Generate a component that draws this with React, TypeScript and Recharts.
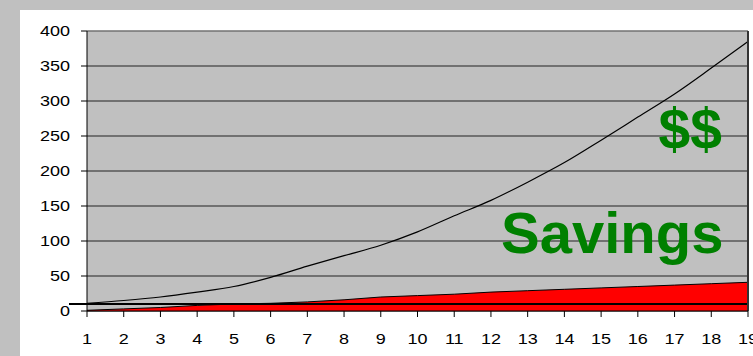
import React from 'react';
import {
  ComposedChart,
  Area,
  Line,
  XAxis,
  YAxis,
  CartesianGrid,
  ReferenceLine,
} from 'recharts';

const years = [1, 2, 3, 4, 5, 6, 7, 8, 9, 10, 11, 12, 13, 14, 15, 16, 17, 18, 19];
const totalValues = [11, 15, 20, 27, 35, 48, 64, 79, 94, 113, 136, 158, 184, 212, 244, 277, 310, 347, 385];
const savingsValues = [1, 3, 5, 8, 10, 11, 13, 16, 20, 22, 24, 27, 29, 31, 33, 35, 37, 39, 41];
const yTicks = [0, 50, 100, 150, 200, 250, 300, 350, 400];
const baseLevel = 10;

const data = years.map((year, i) => ({
  year,
  total: totalValues[i],
  savings: savingsValues[i],
}));

const FONT = '"Liberation Sans", Arial, sans-serif';

function XTick(props: any) {
  const { x, y, payload } = props;
  return (
    <text
      transform={`translate(${x},${y}) scale(1.2,1)`}
      textAnchor="middle"
      dy="0.71em"
      fontFamily={FONT}
      fontSize={15}
      fill="#000"
    >
      {payload.value}
    </text>
  );
}

function YTick(props: any) {
  const { x, y, payload } = props;
  return (
    <text
      transform={`translate(${x},${y}) scale(1.2,1)`}
      textAnchor="end"
      dy="0.355em"
      fontFamily={FONT}
      fontSize={15}
      fill="#000"
    >
      {payload.value}
    </text>
  );
}

// the flat line starts a little left of the value axis
function BaseLine(props: any) {
  return (
    <line
      x1={props.x1 - 18}
      y1={props.y1}
      x2={props.x2}
      y2={props.y2}
      stroke="#000"
      strokeWidth={2}
    />
  );
}

export default function App() {
  return (
    <div
      style={{
        position: 'fixed',
        left: 0,
        top: 0,
        width: 753,
        height: 356,
        background: '#c0c0c0',
        overflow: 'hidden',
      }}
    >
      <div
        style={{
          position: 'absolute',
          left: 20,
          top: 10,
          right: 0,
          bottom: 0,
          background: '#fff',
        }}
      />
      <div style={{ position: 'absolute', left: 0, top: 0 }}>
        <ComposedChart
          width={753}
          height={356}
          data={data}
          margin={{ top: 31, right: 5, bottom: 0, left: 20 }}
        >
          <CartesianGrid vertical={false} stroke="#222" fill="#c0c0c0" fillOpacity={1} />
          <XAxis
            dataKey="year"
            interval={0}
            height={45}
            tickSize={6}
            tickMargin={16}
            tick={<XTick />}
            stroke="#000"
          />
          <YAxis
            domain={[0, 400]}
            ticks={yTicks}
            width={67}
            tickSize={6}
            tickMargin={11}
            tick={<YTick />}
            stroke="#000"
          />
          <ReferenceLine y={400} stroke="#999" />
          <Area
            type="linear"
            dataKey="savings"
            fill="#ff0000"
            fillOpacity={1}
            stroke="#000"
            strokeWidth={1}
            isAnimationActive={false}
          />
          <Line
            type="monotone"
            dataKey="total"
            stroke="#000"
            strokeWidth={1.2}
            dot={false}
            isAnimationActive={false}
          />
          <ReferenceLine y={baseLevel} shape={<BaseLine />} />
          <ReferenceLine x={19} stroke="#333" strokeWidth={2} />
        </ComposedChart>
      </div>
      <svg
        width={753}
        height={356}
        style={{ position: 'absolute', left: 0, top: 0, pointerEvents: 'none' }}
      >
        <text
          x={722}
          y={149}
          textAnchor="end"
          fontFamily={FONT}
          fontWeight="bold"
          fontSize={57}
          fill="#008000"
        >
          $$
        </text>
        <text
          x={501}
          y={253}
          fontFamily={FONT}
          fontWeight="bold"
          fontSize={58}
          fill="#008000"
        >
          Savings
        </text>
      </svg>
    </div>
  );
}
